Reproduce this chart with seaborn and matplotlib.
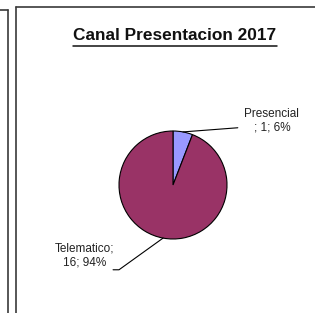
import matplotlib
matplotlib.use("Agg")
import matplotlib.pyplot as plt
from matplotlib.lines import Line2D
import seaborn as sns
import numpy as np

# Datos
canales = ["Presencial", "Telematico"]
solicitudes = [1, 16]
colores = ["#9999FF", "#993366"]
titulo = "Canal Presentacion 2017"

sns.set_theme(style="white")
plt.rcParams['font.family'] = ['Liberation Sans', 'DejaVu Sans']

W, H = 315, 313
fig = plt.figure(figsize=(W / 100, H / 100), dpi=100)
fig.patch.set_facecolor("white")

def px(x, y):
    return x / W, 1 - y / H

# marcos (borde del grafico anterior y del actual)
marco = dict(color="#3a3a3a", lw=1.2, transform=fig.transFigure)
fig.lines.append(Line2D(*zip(px(0, 10), px(8, 10)), **marco))
fig.lines.append(Line2D(*zip(px(8, 10), px(8, 313)), **marco))
fig.lines.append(Line2D(*zip(px(16, 313), px(16, 7)), **marco))
fig.lines.append(Line2D(*zip(px(16, 7), px(315, 7)), **marco))

# titulo subrayado
tx, ty = px(175, 36)
t = fig.text(tx, ty, titulo, ha="center", va="center", fontsize=12.4,
             fontweight="bold", color="#111111")
fig.canvas.draw()
bb = t.get_window_extent()
ux0, ux1 = bb.x0 / W / fig.dpi * 100, bb.x1 / W / fig.dpi * 100
fig.lines.append(Line2D([ux0, ux1], [px(0, 45.5)[1]] * 2, color="#111111",
                        lw=1.1, transform=fig.transFigure))

# pastel
cx, cy, r = 173, 185, 54
ax = fig.add_axes([(cx - r) / W, 1 - (cy + r) / H, 2 * r / W, 2 * r / H])
wedges, _ = ax.pie(solicitudes, colors=colores, startangle=90, counterclock=False,
                   wedgeprops=dict(edgecolor="black", linewidth=0.8))
ax.set_xlim(-1, 1)
ax.set_ylim(-1, 1)
ax.set_aspect("equal")
ax.axis("off")

total = sum(solicitudes)
etiquetas = [
    f"{canales[0]}\n; {solicitudes[0]}; {round(100 * solicitudes[0] / total)}%",
    f"{canales[1]};\n{solicitudes[1]}; {round(100 * solicitudes[1] / total)}%",
]
pos_texto = [(1.83, 1.19), (-1.63, -1.30)]
fin_linea = [[(1.20, 1.06)], [(-1.0, -1.57), (-1.11, -1.57)]]

for w, lab, (x, y), fin in zip(wedges, etiquetas, pos_texto, fin_linea):
    ang = np.deg2rad((w.theta1 + w.theta2) / 2)
    pts = [(np.cos(ang), np.sin(ang))] + fin
    xs, ys = zip(*pts)
    ax.plot(xs, ys, color="black", lw=0.8, clip_on=False)
    ax.text(x, y, lab, ha="center", va="center", fontsize=8.5,
            color="#222222", linespacing=1.2, clip_on=False)

fig.savefig("out.png", dpi=100)
